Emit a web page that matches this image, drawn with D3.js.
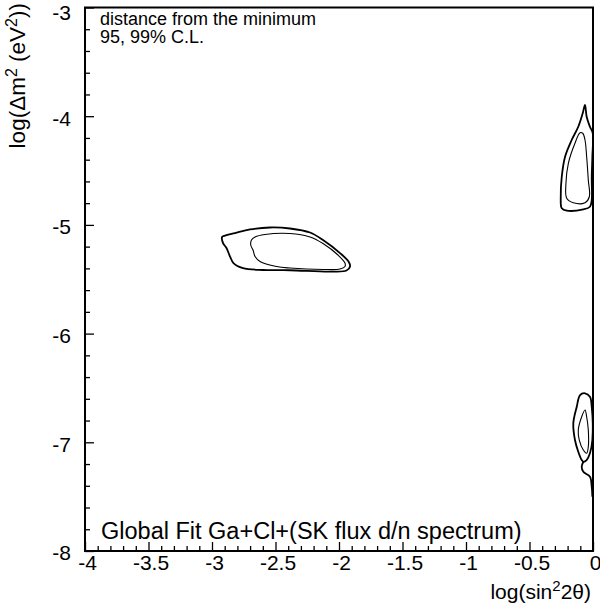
<!DOCTYPE html>
<html>
<head>
<meta charset="utf-8">
<script src="https://cdn.jsdelivr.net/npm/d3@7"></script>
<style>
  html, body { margin: 0; padding: 0; background: #fff; }
  svg { display: block; font-family: "Liberation Sans", Arial, Helvetica, sans-serif; }
</style>
</head>
<body>
<svg id="chart" width="600" height="607"></svg>
<script>
// ---- Data (log sin^2 2θ, log Δm^2) ----
const xMajorTicks = [-4, -3.5, -3, -2.5, -2, -1.5, -1, -0.5, 0];
const xTickLabels = ["-4", "-3.5", "-3", "-2.5", "-2", "-1.5", "-1", "-0.5", "0"];
const yMajorTicks = [-3, -4, -5, -6, -7, -8];
const yTickLabels = ["-3", "-4", "-5", "-6", "-7", "-8"];

// LMA-like island, 99% (outer) and 95% (inner)
const smaOuterX = [-2.921,-2.913,-2.886,-2.858,-2.831,-2.756,-2.598,-2.386,-2.071,-1.941,-1.913,-1.925,-1.992,-2.126,-2.228,-2.386,-2.543,-2.701,-2.819,-2.898];
const smaOuterY = [-5.111,-5.167,-5.213,-5.291,-5.351,-5.397,-5.415,-5.417,-5.429,-5.420,-5.383,-5.337,-5.259,-5.139,-5.070,-5.033,-5.024,-5.042,-5.075,-5.098];
const smaInnerX = [-2.689,-2.695,-2.677,-2.661,-2.622,-2.492,-2.386,-2.126,-1.992,-1.953,-1.953,-2.008,-2.126,-2.228,-2.386,-2.583,-2.661];
const smaInnerY = [-5.139,-5.185,-5.231,-5.291,-5.337,-5.383,-5.397,-5.410,-5.406,-5.383,-5.351,-5.277,-5.171,-5.111,-5.079,-5.088,-5.111];

// Upper right island
const upOuterX = [-0.063,-0.050,-0.024,-0.002,-0.005,-0.010,-0.010,-0.024,-0.076,-0.207,-0.246,-0.254,-0.246,-0.220,-0.168,-0.116,-0.081];
const upOuterY = [-3.897,-4.005,-4.097,-4.157,-4.373,-4.557,-4.771,-4.833,-4.857,-4.869,-4.847,-4.741,-4.557,-4.373,-4.219,-4.097,-3.973];
const upInnerX = [-0.081,-0.102,-0.142,-0.194,-0.213,-0.207,-0.155,-0.063,-0.029,-0.037,-0.050,-0.063];
const upInnerY = [-4.157,-4.152,-4.249,-4.433,-4.617,-4.755,-4.796,-4.796,-4.741,-4.587,-4.373,-4.219];

// Lower right island
const lowOuterX = [-0.063,-0.024,-0.010,-0.005,-0.024,-0.050,-0.076,-0.089,-0.116,-0.142,-0.155,-0.128,-0.102];
const lowOuterY = [-6.549,-6.581,-6.673,-6.979,-7.101,-7.163,-7.179,-7.163,-7.087,-6.979,-6.825,-6.673,-6.565];
const lowTailX = [-0.076,-0.089,-0.076,-0.024,-0.010,-0.005];
const lowTailY = [-7.179,-7.225,-7.271,-7.317,-7.409,-7.501];
const lowInnerX = [-0.063,-0.089,-0.116,-0.108,-0.076,-0.050,-0.037,-0.037,-0.050];
const lowInnerY = [-6.703,-6.765,-6.887,-6.979,-7.071,-7.101,-7.041,-6.887,-6.765];

// ---- Layout ----
const svg = d3.select("#chart");
const mLeft = 85, mRight = 593, mTop = 7.5, mBottom = 551;
const x = d3.scaleLinear().domain([-4, 0]).range([mLeft, mRight]);
const y = d3.scaleLinear().domain([-3, -8]).range([mTop, mBottom]);

const zip = (xs, ys) => xs.map((v, i) => [v, ys[i]]);
const closedLine = d3.line().x(d => x(d[0])).y(d => y(d[1])).curve(d3.curveCatmullRomClosed.alpha(0.5));
const openLine = d3.line().x(d => x(d[0])).y(d => y(d[1])).curve(d3.curveCatmullRom.alpha(0.5));

const g = svg.append("g");
const contours = [
  { d: zip(smaOuterX, smaOuterY), closed: true, w: 1.8 },
  { d: zip(smaInnerX, smaInnerY), closed: true, w: 1.1 },
  { d: zip(upOuterX, upOuterY), closed: true, w: 1.8 },
  { d: zip(upInnerX, upInnerY), closed: true, w: 1.1 },
  { d: zip(lowOuterX, lowOuterY), closed: true, w: 1.8 },
  { d: zip(lowTailX, lowTailY), closed: false, w: 1.8 },
  { d: zip(lowInnerX, lowInnerY), closed: true, w: 1.1 }
];
g.selectAll("path.c").data(contours).join("path")
  .attr("class", "c")
  .attr("d", c => (c.closed ? closedLine : openLine)(c.d))
  .attr("fill", "none").attr("stroke", "#000").attr("stroke-width", c => c.w)
  .attr("stroke-linejoin", "round");

// ---- Axes ----
const fontSize = 21;
const yMinor = d3.range(-3, -8.0001, -0.2).filter(v => Math.abs(v - Math.round(v)) > 1e-6);
const xMinor = d3.range(-4, 0.0001, 0.1).filter(v => Math.abs(v * 2 - Math.round(v * 2)) > 1e-6);

svg.append("g").attr("transform", `translate(${mLeft},0)`)
  .call(d3.axisLeft(y).tickValues(yMinor).tickSize(-5).tickFormat(""))
  .call(a => a.select(".domain").remove())
  .selectAll("line").attr("stroke", "#000").attr("stroke-width", 1.3);
svg.append("g").attr("transform", `translate(0,${mBottom})`)
  .call(d3.axisBottom(x).tickValues(xMinor).tickSize(-5).tickFormat(""))
  .call(a => a.select(".domain").remove())
  .selectAll("line").attr("stroke", "#000").attr("stroke-width", 1.3);

const yAx = svg.append("g").attr("transform", `translate(${mLeft},0)`)
  .call(d3.axisLeft(y).tickValues(yMajorTicks).tickSize(-9).tickPadding(14)
    .tickFormat((d, i) => yTickLabels[i]));
yAx.select(".domain").remove();
yAx.selectAll("line").attr("stroke", "#000").attr("stroke-width", 1.3);
yAx.selectAll("text").attr("font-size", fontSize).attr("fill", "#000")
  .attr("font-family", "Liberation Sans, Arial, sans-serif")
  .attr("dy", (d, i) => i === 0 ? "0.56em" : "0.42em");

const xAx = svg.append("g").attr("transform", `translate(0,${mBottom})`)
  .call(d3.axisBottom(x).tickValues(xMajorTicks).tickSize(-9).tickPadding(4)
    .tickFormat((d, i) => xTickLabels[i]));
xAx.select(".domain").remove();
xAx.selectAll("line").attr("stroke", "#000").attr("stroke-width", 1.3);
xAx.selectAll("text").attr("font-size", fontSize).attr("fill", "#000")
  .attr("font-family", "Liberation Sans, Arial, sans-serif")
  .attr("dx", 2);

// frame
svg.append("rect")
  .attr("x", mLeft).attr("y", mTop)
  .attr("width", mRight - mLeft).attr("height", mBottom - mTop)
  .attr("fill", "none").attr("stroke", "#000").attr("stroke-width", 2);

// ---- Titles ----
const xt = svg.append("text")
  .attr("x", 591).attr("y", 599).attr("text-anchor", "end")
  .attr("font-size", fontSize).attr("fill", "#000");
xt.append("tspan").text("log(sin");
xt.append("tspan").attr("dy", -8).attr("font-size", 15).text("2");
xt.append("tspan").attr("dy", 8).text("2θ)");

const yt = svg.append("text")
  .attr("transform", "translate(25,3) rotate(-90)")
  .attr("text-anchor", "end")
  .attr("font-size", 22.5).attr("fill", "#000");
yt.append("tspan").text("log(Δm");
yt.append("tspan").attr("dy", -8).attr("font-size", 16).text("2");
yt.append("tspan").attr("dy", 8).text(" (eV");
yt.append("tspan").attr("dy", -8).attr("font-size", 16).text("2");
yt.append("tspan").attr("dy", 8).text("))");

// ---- Annotations ----
svg.append("text").attr("x", 100).attr("y", 25).attr("font-size", 18).attr("fill", "#000")
  .text("distance from the minimum");
svg.append("text").attr("x", 100).attr("y", 43).attr("font-size", 18).attr("fill", "#000")
  .text("95, 99% C.L.");
svg.append("text").attr("x", 101).attr("y", 539).attr("font-size", 23.5).attr("fill", "#000")
  .text("Global Fit Ga+Cl+(SK flux d/n spectrum)");
</script>
</body>
</html>
